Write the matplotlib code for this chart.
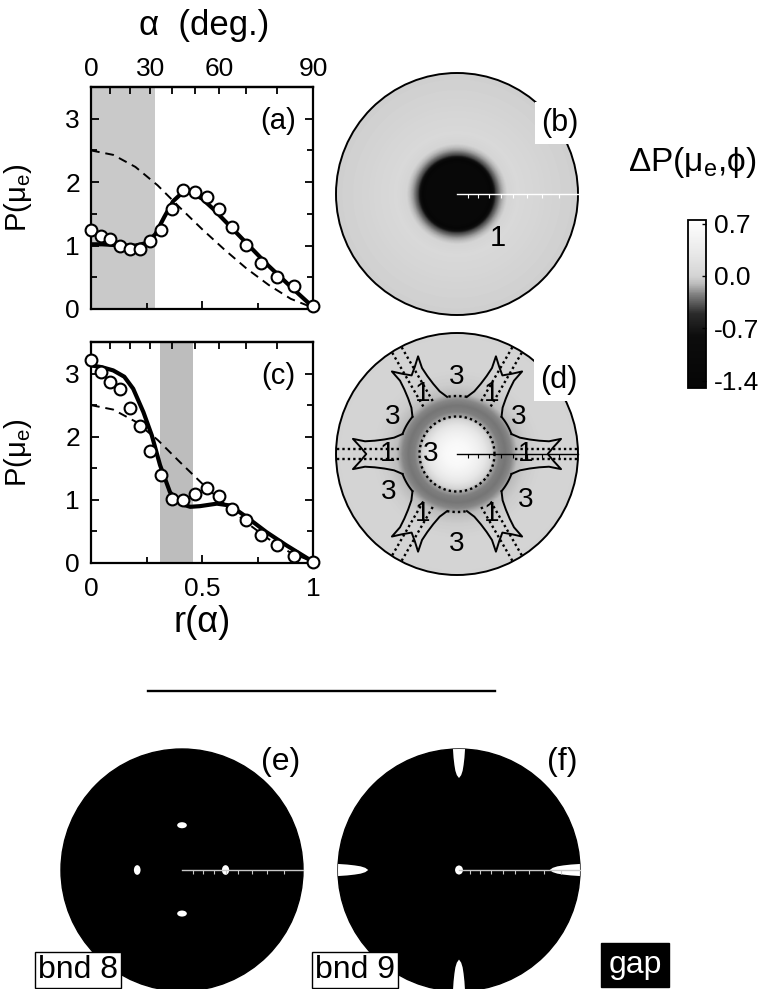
import numpy as np
import matplotlib
matplotlib.use('Agg')
import matplotlib.pyplot as plt
from matplotlib.colors import LinearSegmentedColormap, Normalize
from matplotlib.cm import ScalarMappable
from matplotlib.patches import Circle, Ellipse, Polygon
from matplotlib.lines import Line2D

plt.rcParams['font.family'] = ['Liberation Sans', 'DejaVu Sans']
plt.rcParams['mathtext.fontset'] = 'custom'
plt.rcParams['mathtext.rm'] = 'Liberation Sans'
plt.rcParams['mathtext.it'] = 'Liberation Sans:italic'
plt.rcParams['mathtext.default'] = 'regular'

# ---- data ----
# measured points are taken every 5 deg of emission angle alpha
alpha_pts = [0, 5, 10, 15, 20, 25, 30, 35, 40, 45, 50, 55, 60, 65, 70, 75, 80, 85, 90]
p_exp_a = [1.25, 1.15, 1.10, 0.99, 0.94, 0.95, 1.07, 1.25, 1.58, 1.88,
           1.85, 1.76, 1.58, 1.30, 1.01, 0.72, 0.50, 0.37, 0.05]
p_exp_c = [3.22, 3.02, 2.87, 2.76, 2.45, 2.17, 1.78, 1.39, 1.02, 1.00,
           1.10, 1.19, 1.06, 0.86, 0.68, 0.45, 0.28, 0.11, 0.02]

# calculated curves (solid)
r_fit_a = [0.0, 0.05, 0.10, 0.15, 0.20, 0.25, 0.29, 0.33, 0.37, 0.41,
           0.45, 0.50, 0.55, 0.60, 0.70, 0.80, 0.90, 1.00]
p_fit_a = [1.02, 1.02, 1.01, 1.00, 1.00, 1.04, 1.18, 1.45, 1.70, 1.83,
           1.84, 1.74, 1.58, 1.40, 1.04, 0.68, 0.35, 0.03]
r_fit_c = [0.0, 0.05, 0.10, 0.15, 0.19, 0.236, 0.274, 0.311, 0.356, 0.40,
           0.447, 0.49, 0.567, 0.627, 0.70, 0.79, 0.88, 1.0]
p_fit_c = [3.13, 3.10, 3.05, 2.95, 2.76, 2.39, 2.02, 1.55, 1.12, 0.94,
           0.89, 0.90, 0.94, 0.91, 0.73, 0.49, 0.28, 0.02]

# isotropic reference (dashed)
r_iso = [0.0, 0.1, 0.2, 0.3, 0.4, 0.5, 0.6, 0.7, 0.8, 0.9, 1.0]
p_iso = [2.50, 2.43, 2.24, 1.95, 1.60, 1.26, 0.94, 0.64, 0.38, 0.16, 0.02]

shade_a = (0.0, 0.29)
shade_c = (0.31, 0.46)

# radial profiles of delta P shown in the maps (b) and (d)
dp_r_b = [0.0, 0.25, 0.285, 0.30, 0.32, 0.36, 0.42, 0.50, 0.62, 0.80, 1.00]
dp_b = [-1.2, -1.2, -1.4, -0.9, -0.45, -0.2, 0.02, 0.08, 0.05, 0.0, -0.02]
dp_r_d = [0.0, 0.10, 0.18, 0.24, 0.28, 0.31, 0.35, 0.40, 0.45, 0.50, 0.58, 0.75, 1.0]
dp_d = [0.70, 0.62, 0.45, 0.25, 0.05, -0.15, -0.25, -0.28, -0.23, -0.10, -0.03, 0.02, 0.0]

cbar_ticks = [0.7, 0.0, -0.7, -1.4]
cbar_labels = ['0.7', '0.0', '-0.7', '-1.4']

# (d) overlay: six arms
arm_angles = [0, 60, 120, 180, 240, 300]
arm_side_u = [0.45, 0.52, 0.60, 0.68, 0.76, 0.86]
arm_side_v = [0.165, 0.135, 0.12, 0.11, 0.105, 0.125]
d_three_ang = [90, 270, 150, 31, 209, 326]
d_three_rad = [0.64, 0.74, 0.61, 0.59, 0.65, 0.68]

# (e) band 8 pockets, (f) band 9 pockets
spot_e_x = [0.0, 0.0, -0.37, 0.36]
spot_e_y = [0.37, -0.36, 0.0, 0.0]
spot_e_w = [0.08, 0.08, 0.055, 0.06]
spot_e_h = [0.05, 0.05, 0.08, 0.08]
spot_f_x = [0.0]
spot_f_y = [0.0]
thorn_ang = [0, 90, 180, 270]
thorn_start = [0.75, 0.76, 0.75, 0.74]
thorn_t = [0.0, 0.1, 0.25, 0.45, 0.7, 1.0, 1.2]
thorn_w = [0.0, 0.018, 0.03, 0.038, 0.045, 0.05, 0.05]

scale_alpha = [10, 20, 30, 40, 50, 60, 70, 80]

W, H = 760.0, 989.0
fig = plt.figure(figsize=(7.6, 9.89), dpi=100)


def px_rect(x0, y0, x1, y1):
    return [x0 / W, 1 - y1 / H, (x1 - x0) / W, (y1 - y0) / H]


def r_to_alpha(r):
    return np.degrees(2 * np.arctan(np.asarray(r, dtype=float)))


def alpha_to_r(a):
    return np.tan(np.radians(np.asarray(a, dtype=float)) / 2)


def profile_panel(rect, p_exp, r_fit, p_fit, shade, shade_col, label, bottom_labels, top_labels):
    ax = fig.add_axes(rect)
    ax.axvspan(shade[0], shade[1], color=shade_col, lw=0, zorder=0)
    ax.plot(r_iso, p_iso, color='black', lw=1.4, dashes=[4.5, 3], zorder=2)
    ax.plot(r_fit, p_fit, color='black', lw=3.0, solid_capstyle='round', zorder=3)
    ax.plot(alpha_to_r(alpha_pts), p_exp, 'o', ms=8.5, mfc='white', mec='black',
            mew=1.5, zorder=4, clip_on=False)
    ax.set_xlim(0, 1)
    ax.set_ylim(0, 3.5)
    ax.set_yticks([0, 1, 2, 3])
    ax.set_yticks([0.5, 1.5, 2.5], minor=True)
    ax.set_xticks([0, 0.5, 1])
    ax.set_xticks([0.25, 0.75], minor=True)
    ax.tick_params(which='both', direction='in', left=True, right=True, top=False,
                   bottom=True, width=1.3, labelsize=19)
    ax.tick_params(axis='y', pad=8)
    ax.tick_params(axis='x', pad=10)
    ax.tick_params(which='major', length=6)
    ax.tick_params(which='minor', length=4)
    if bottom_labels:
        ax.set_xticklabels(['0', '0.5', '1'])
    else:
        ax.tick_params(labelbottom=False)
    for s in ax.spines.values():
        s.set_linewidth(1.6)
    sec = ax.secondary_xaxis('top', functions=(r_to_alpha, alpha_to_r))
    sec.set_xticks([0, 30, 60, 90])
    sec.set_xticks([10, 20, 40, 50, 70, 80], minor=True)
    sec.tick_params(which='both', direction='in', length=5, width=1.3, labelsize=19, pad=4)
    if not top_labels:
        sec.tick_params(labeltop=False)
    sec.spines['top'].set_linewidth(1.6)
    ax.set_ylabel('P(μ$_e$)', fontsize=21)
    ax.yaxis.set_label_coords(-0.255, 0.5)
    ax.text(0.845, 0.845, label, transform=ax.transAxes, fontsize=21,
            ha='center', va='center')
    return ax


ax_a = profile_panel(px_rect(91, 87, 313, 309), p_exp_a, r_fit_a, p_fit_a,
                     shade_a, '#c9c9c9', '(a)', False, True)
ax_c = profile_panel(px_rect(91, 342, 313, 563), p_exp_c, r_fit_c, p_fit_c,
                     shade_c, '#bdbdbd', '(c)', True, False)

fig.text(204 / W, 1 - 26 / H, 'α  (deg.)', fontsize=25, ha='center', va='center')
fig.text(202 / W, 1 - 623 / H, 'r(α)', fontsize=26, ha='center', va='center')

# colour scale for delta P
vmin, vmax = -1.5, 0.75
nodes = [(-1.5, 0.02), (-0.8, 0.05), (-0.5, 0.17), (-0.25, 0.5), (-0.1, 0.74),
         (0.0, 0.83), (0.3, 0.91), (0.75, 1.0)]
cmap_dp = LinearSegmentedColormap.from_list(
    'dp', [((v - vmin) / (vmax - vmin), (g, g, g)) for v, g in nodes])
norm_dp = Normalize(vmin, vmax)

grid = np.linspace(-1, 1, 401)
gx, gy = np.meshgrid(grid, grid)
grr = np.hypot(gx, gy)


def disc_axes(cx, cy, rad):
    k = 1.03
    ax = fig.add_axes(px_rect(cx - k * rad, cy - k * rad, cx + k * rad, cy + k * rad))
    ax.set_xlim(-k, k)
    ax.set_ylim(-k, k)
    ax.set_axis_off()
    return ax


def field_disc(ax, prof_r, prof_v):
    im = ax.imshow(np.interp(grr, prof_r, prof_v), extent=[-1, 1, -1, 1], origin='lower',
                   cmap=cmap_dp, norm=norm_dp, interpolation='bilinear')
    im.set_clip_path(Circle((0, 0), 1, transform=ax.transData))
    ax.add_patch(Circle((0, 0), 1, fill=False, ec='black', lw=1.4, zorder=5))


def scale_bar(ax, col):
    ax.plot([0, 1], [0, 0], color=col, lw=1.0, zorder=6)
    ax.vlines(alpha_to_r(scale_alpha), -0.035, 0, color=col, lw=0.8, zorder=6)


# (b)
ax_b = disc_axes(457, 194, 121)
field_disc(ax_b, dp_r_b, dp_b)
scale_bar(ax_b, 'white')
ax_b.text(0.335, -0.364, '1', fontsize=21, ha='center', va='center')
fig.text(560 / W, 1 - 123 / H, '(b)', fontsize=22, ha='center', va='center',
         bbox=dict(boxstyle='square,pad=0.2', fc='white', ec='none'))

# (d)
ax_d = disc_axes(457, 454, 121)
field_disc(ax_d, dp_r_d, dp_d)
su = np.array(arm_side_u)
sv = np.array(arm_side_v)
arm_u = np.concatenate([su, [0.80, 0.75, 0.80], su[::-1]])
arm_v = np.concatenate([sv, [0.06, 0.0, -0.06], -sv[::-1]])
half_base = np.degrees(np.arctan2(sv[0], su[0]))
r_base = np.hypot(su[0], sv[0])
for th in arm_angles:
    t = np.radians(th)
    ax_d.plot(arm_u * np.cos(t) - arm_v * np.sin(t), arm_u * np.sin(t) + arm_v * np.cos(t),
              color='black', lw=1.4, zorder=7)
    for off in (-0.045, 0.045):
        uu = np.array([r_base, 1.0])
        ax_d.plot(uu * np.cos(t) - off * np.sin(t), uu * np.sin(t) + off * np.cos(t),
                  color='black', lw=1.7, ls=(0, (1, 1.3)), zorder=6,
                  clip_path=Circle((0, 0), 1, transform=ax_d.transData))
    gap_mid = th + 30
    arc = np.radians(np.linspace(gap_mid - (30 - half_base), gap_mid + (30 - half_base), 20))
    ls = (0, (1, 1.3)) if gap_mid in (90, 270) else '-'
    ax_d.plot(r_base * np.cos(arc), r_base * np.sin(arc), color='black',
              lw=1.4 if ls == '-' else 1.7, ls=ls, zorder=7)
ring = np.radians(np.linspace(0, 360, 200))
ax_d.plot(0.31 * np.cos(ring), 0.31 * np.sin(ring), color='black', lw=1.7,
          ls=(0, (1, 1.3)), zorder=6)
scale_bar(ax_d, 'black')
for th, rr in zip(d_three_ang, d_three_rad):
    ax_d.text(rr * np.cos(np.radians(th)), rr * np.sin(np.radians(th)), '3',
              fontsize=20, ha='center', va='center', zorder=8)
ax_d.text(-0.22, 0.0, '3', fontsize=20, ha='center', va='center', zorder=8)
for th in arm_angles:
    ax_d.text(0.57 * np.cos(np.radians(th)), 0.57 * np.sin(np.radians(th)), '1',
              fontsize=20, ha='center', va='center', zorder=8)
fig.text(559 / W, 1 - 380 / H, '(d)', fontsize=22, ha='center', va='center',
         bbox=dict(boxstyle='square,pad=0.2', fc='white', ec='none'))

# colorbar
cax = fig.add_axes(px_rect(688, 220, 706, 388))
cb = fig.colorbar(ScalarMappable(norm_dp, cmap_dp), cax=cax)
cb.set_ticks(cbar_ticks)
cb.set_ticklabels(cbar_labels)
cax.tick_params(direction='in', length=3, width=1, labelsize=19, pad=6)
cb.outline.set_linewidth(1.3)
fig.text(692 / W, 1 - 162 / H, 'ΔP(μ$_e$,ϕ)', fontsize=24, ha='center', va='center')

# separator
fig.add_artist(Line2D([148 / W, 495 / W], [1 - 691 / H, 1 - 691 / H], color='black',
                      lw=1.7, transform=fig.transFigure))

# (e)
ax_e = disc_axes(182, 870, 121)
ax_e.add_patch(Circle((0, 0), 1, fc='black', ec='black', lw=1))
for x, y, w, h in zip(spot_e_x, spot_e_y, spot_e_w, spot_e_h):
    ax_e.add_patch(Ellipse((x, y), w, h, fc='white', ec='none', zorder=4))
scale_bar(ax_e, '#c8c8c8')

# (f)
ax_f = disc_axes(459, 870, 121)
ax_f.add_patch(Circle((0, 0), 1, fc='black', ec='black', lw=1))
for x, y in zip(spot_f_x, spot_f_y):
    ax_f.add_patch(Ellipse((x, y), 0.065, 0.075, fc='white', ec='none', zorder=4))
tt = np.array(thorn_t)
tw = np.array(thorn_w)
for th, st in zip(thorn_ang, thorn_start):
    t = np.radians(th)
    uu = st + tt * (1 - st)
    pu = np.concatenate([uu, uu[::-1]])
    pv = np.concatenate([tw, -tw[::-1]])
    poly = Polygon(np.column_stack([pu * np.cos(t) - pv * np.sin(t), pu * np.sin(t) + pv * np.cos(t)]),
                   closed=True, fc='white', ec='none', zorder=4)
    ax_f.add_patch(poly)
    poly.set_clip_path(Circle((0, 0), 1, transform=ax_f.transData))
scale_bar(ax_f, '#c8c8c8')

fig.text(281 / W, 1 - 762 / H, '(e)', fontsize=23, ha='center', va='center')
fig.text(562 / W, 1 - 762 / H, '(f)', fontsize=23, ha='center', va='center')
fig.text(78 / W, 1 - 970 / H, 'bnd 8', fontsize=23, ha='center', va='center',
         bbox=dict(boxstyle='square,pad=0.1', fc='white', ec='black', lw=1))
fig.text(355 / W, 1 - 970 / H, 'bnd 9', fontsize=23, ha='center', va='center',
         bbox=dict(boxstyle='square,pad=0.1', fc='white', ec='black', lw=1))
fig.text(635 / W, 1 - 965 / H, 'gap', fontsize=23, ha='center', va='center', color='white',
         bbox=dict(boxstyle='square,pad=0.22', fc='black', ec='black', lw=1))

fig.savefig('out.png', dpi=100)
